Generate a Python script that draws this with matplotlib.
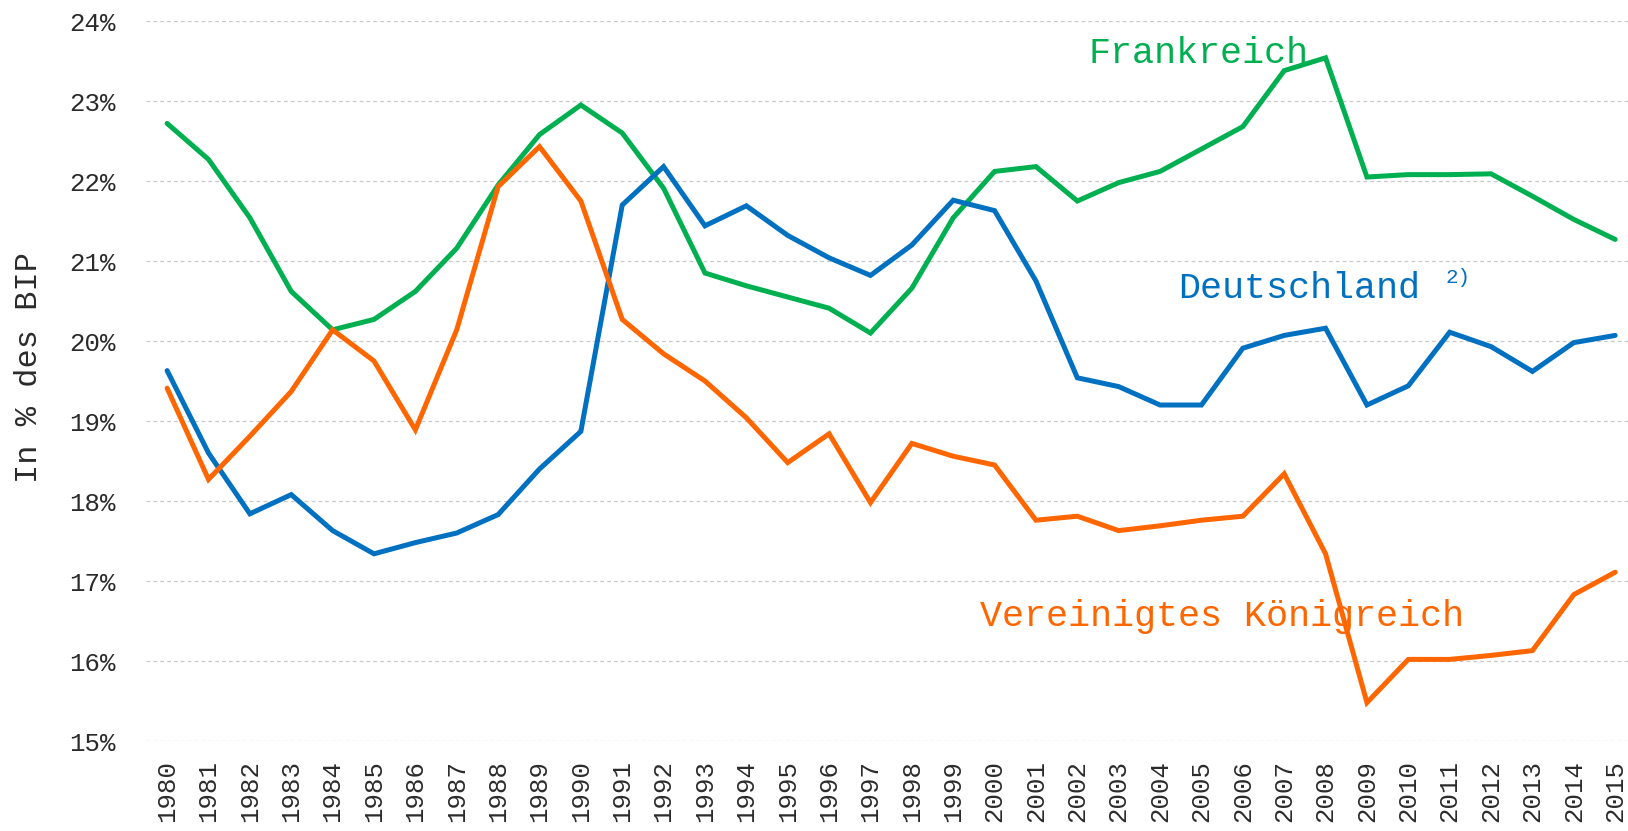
import matplotlib
matplotlib.use("Agg")
import matplotlib.pyplot as plt
from matplotlib.ticker import FuncFormatter

# -----------------------------
# Daten (in % des BIP)
# -----------------------------
jahre = list(range(1980, 2016))

frankreich = [22.72, 22.27, 21.54, 20.62, 20.14, 20.27, 20.62, 21.16, 21.95, 22.58,
              22.95, 22.60, 21.91, 20.85, 20.69, 20.55, 20.41, 20.10, 20.66, 21.54,
              22.12, 22.18, 21.75, 21.98, 22.12, 22.40, 22.68, 23.38, 23.54, 22.05,
              22.08, 22.08, 22.09, 21.81, 21.52, 21.27]

deutschland = [19.63, 18.60, 17.84, 18.08, 17.63, 17.34, 17.48, 17.60, 17.83, 18.40,
               18.87, 21.70, 22.18, 21.44, 21.69, 21.32, 21.04, 20.82, 21.20, 21.76,
               21.63, 20.75, 19.54, 19.43, 19.20, 19.20, 19.91, 20.07, 20.16, 19.20,
               19.44, 20.11, 19.93, 19.62, 19.98, 20.07]

vereinigtes_koenigreich = [19.41, 18.27, 18.81, 19.37, 20.14, 19.75, 18.89, 20.14, 21.93, 22.43,
                           21.75, 20.27, 19.84, 19.50, 19.04, 18.48, 18.84, 17.98, 18.72, 18.56,
                           18.45, 17.76, 17.81, 17.63, 17.69, 17.76, 17.81, 18.34, 17.34, 15.48,
                           16.02, 16.02, 16.07, 16.13, 16.83, 17.11]

y_ticks = [15, 16, 17, 18, 19, 20, 21, 22, 23, 24]

GRUEN = "#00B050"
BLAU = "#0070C0"
ORANGE = "#FF6600"
SCHRIFT = "Liberation Mono"

# -----------------------------
# Figur
# -----------------------------
fig = plt.figure(figsize=(16.28, 8.31), dpi=100)
ax = fig.add_axes([0.0897, 0.1083, 1 - 0.0897, 0.9747 - 0.1083])

for werte, farbe in [(frankreich, GRUEN), (deutschland, BLAU), (vereinigtes_koenigreich, ORANGE)]:
    ax.plot(jahre, werte, color=farbe, lw=3.6, solid_joinstyle="miter",
            solid_capstyle="round", zorder=3)

ax.set_xlim(1979.49, 2015.31)
ax.set_ylim(15, 24)
ax.set_yticks(y_ticks)
ax.yaxis.set_major_formatter(FuncFormatter(lambda v, p: f"{v:.0f}%"))
ax.set_xticks(jahre)
ax.set_xticklabels([str(j) for j in jahre], rotation=90)

ax.grid(axis="y", color="#C8C8C8", lw=0.9, linestyle=(0, (3, 2.5)), zorder=0)
for s in ax.spines.values():
    s.set_visible(False)
ax.tick_params(axis="both", length=0, colors="#2b2b2b", labelsize=18.5)
ax.tick_params(axis="y", pad=22)
ax.tick_params(axis="x", pad=14)
for lbl in ax.get_xticklabels() + ax.get_yticklabels():
    lbl.set_fontfamily(SCHRIFT)

fig.text(0.0178, 0.558, "In % des BIP", rotation=90, ha="center", va="center",
         fontsize=23, family=SCHRIFT, color="#2b2b2b")

# Beschriftungen der Linien
ax.text(2002.26, 23.6, "Frankreich", color=GRUEN, fontsize=26.5, family=SCHRIFT,
        ha="left", va="center")
ax.text(2004.44, 20.66, "Deutschland", color=BLAU, fontsize=26.5, family=SCHRIFT,
        ha="left", va="center")
ax.text(2010.9, 20.79, "2)", color=BLAU, fontsize=15, family=SCHRIFT,
        ha="left", va="center")
ax.text(1999.65, 16.56, "Vereinigtes Königreich", color=ORANGE, fontsize=26.5, family=SCHRIFT,
        ha="left", va="center")

fig.savefig("out.png", dpi=100, facecolor="white")
